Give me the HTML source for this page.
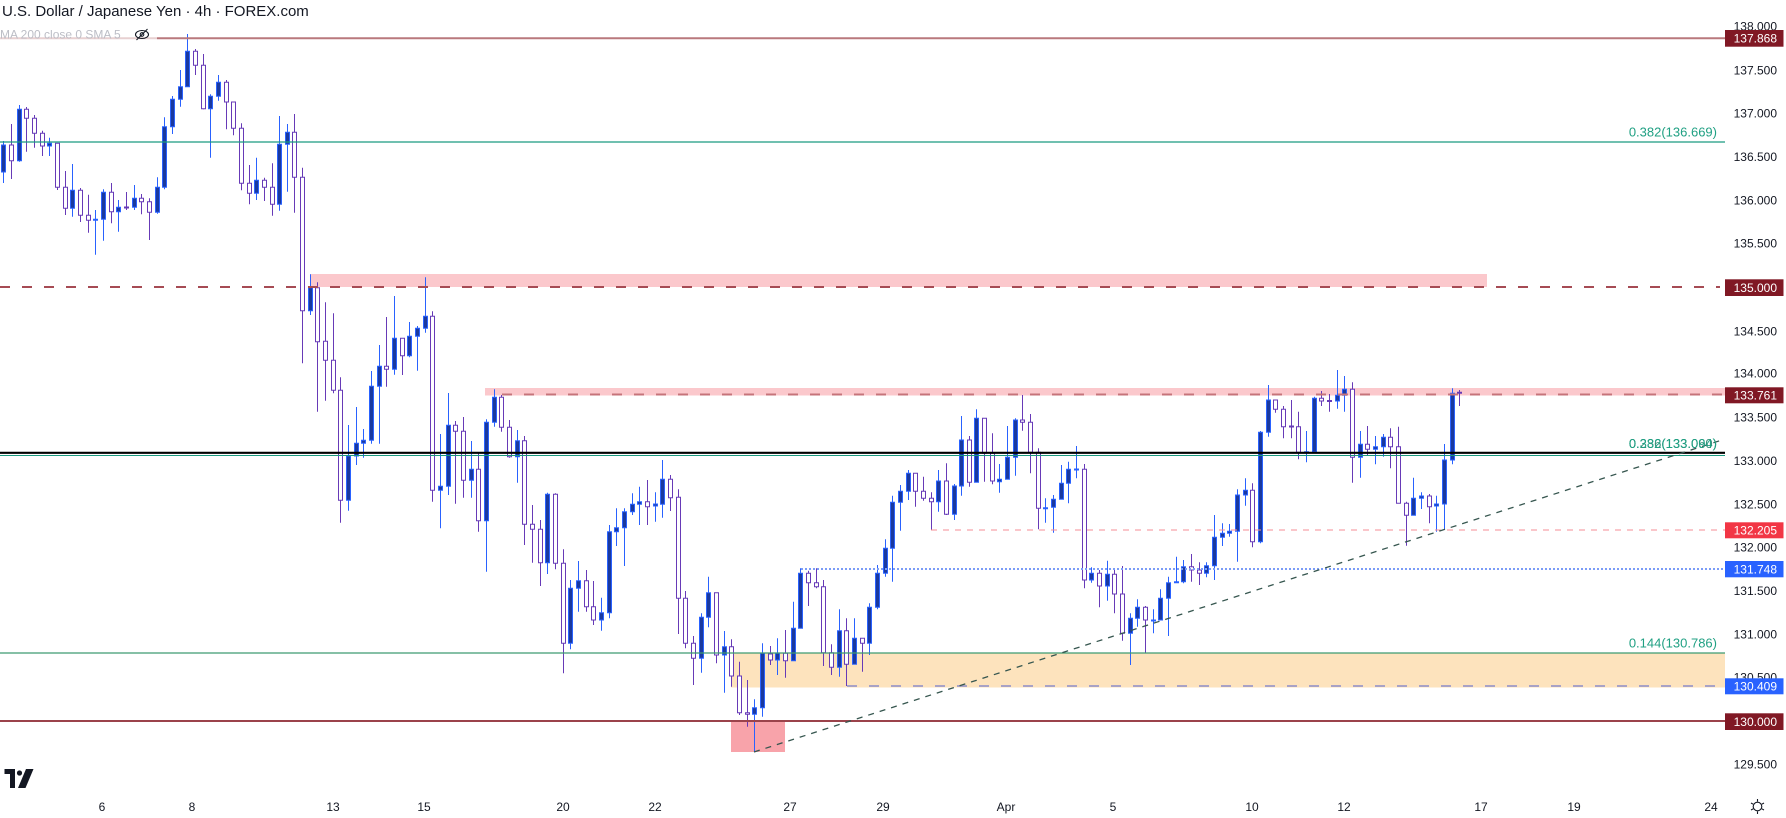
<!DOCTYPE html>
<html><head><meta charset="utf-8"><style>
html,body{margin:0;padding:0;background:#fff;width:1786px;height:818px;overflow:hidden}
svg{display:block}
text{font-family:"Liberation Sans",sans-serif}
.ax{font-size:12px;fill:#131722;text-anchor:end}
.tg{font-size:12px;fill:#fff;text-anchor:end}
.tm{font-size:12px;fill:#131722;text-anchor:middle}
.fb{font-size:13px;fill:#20a083;text-anchor:end}
</style></head><body>
<svg width="1786" height="818" viewBox="0 0 1786 818" xmlns="http://www.w3.org/2000/svg">
<rect width="1786" height="818" fill="#fff"/>
<!-- zones -->
<rect x="310" y="274" width="1177" height="13" fill="#fbc8cc"/>
<rect x="485" y="388" width="1240" height="7.5" fill="#fbc8cc"/>
<rect x="731" y="652.5" width="994" height="35" fill="#fde3bd"/>
<rect x="731" y="721" width="54" height="31" fill="#f8a3aa"/>
<!-- candles: wicks -->
<path fill="none" stroke="#2962ff" stroke-width="1" d="M3.5 141V183 M19.5 105V161.7 M49.5 137.7V156 M72.5 164V216.7 M95.5 210V254.7 M103.5 189.3V240.7 M118.5 200V231.7 M134.5 185V210 M157.5 177.3V213.7 M164.5 117.3V189.3 M172.5 96V134 M180.5 70V106.7 M187.5 34V86.7 M210.5 94.3V157.7 M218.5 75V100.7 M256.5 157.7V200 M279.5 116V210.7 M287.5 124V191.7 M310.5 274.3V315 M348.5 425V510.7 M356.5 407V465 M363.5 429V457.7 M371.5 371V443.7 M379.5 345V443.7 M394.5 296V374.7 M409.5 322V357.3 M417.5 326V370.7 M425.5 277.3V332.7 M440.5 434V528.3 M448.5 393V495 M471.5 441V497.7 M486.5 419.3V571.7 M494.5 389.3V426.7 M517.5 430V482.7 M547.5 492.7V574 M570.5 580V649.3 M578.5 561V611.7 M601.5 597.7V630.7 M609.5 525V618.3 M616.5 508.3V546 M624.5 508.3V566 M632.5 493.3V515 M639.5 486.7V525 M655.5 492.3V521.7 M662.5 460V517.7 M701.5 613.3V672.7 M708.5 576.7V627.3 M724.5 631V692.7 M754.5 699.3V752 M762.5 643.3V716.7 M777.5 638.3V675 M793.5 601.7V660.7 M800.5 568.3V628.3 M839.5 609.3V676.7 M854.5 618.3V664.3 M869.5 603.3V655 M877.5 565V609.3 M885.5 539.3V576.7 M892.5 495.7V581.7 M900.5 485V530.7 M908.5 470V500 M938.5 470V511.7 M954.5 484V520 M961.5 416V495.7 M976.5 409.3V482.3 M999.5 464V492.7 M1007.5 426V479.3 M1015.5 418.3V475.7 M1045.5 498.3V522.7 M1053.5 495V532.7 M1061.5 465V499.3 M1068.5 461.7V503.3 M1076.5 446V478.3 M1091.5 567.3V582.7 M1107.5 560.7V600.7 M1130.5 613.3V665 M1137.5 599.3V626.7 M1153.5 609.3V633.3 M1160.5 589.3V620 M1168.5 576.7V636 M1176.5 556.7V582.7 M1183.5 560V583.3 M1206.5 562.3V577.3 M1214.5 515V580 M1222.5 523.3V546 M1229.5 524V536.7 M1237.5 489.3V561.7 M1245.5 478.3V505.7 M1260.5 431V543.3 M1268.5 385V436.7 M1306.5 431V462.3 M1314.5 396.7V451.7 M1337.5 370V408.7 M1344.5 376V411.7 M1360.5 431V477.7 M1375.5 436V464.3 M1383.5 434V456.7 M1413.5 477.7V515.3 M1421.5 492.3V509 M1436.5 495.7V531.7 M1444.5 444V529.3 M1452.5 388.3V464.3"/>
<path fill="none" stroke="#673ab7" stroke-width="1" d="M11.5 124V179 M26.5 107V151.7 M34.5 115V147.7 M42.5 130.7V156 M57.5 143.3V190 M65.5 171V215 M80.5 188V222 M88.5 194.7V232.7 M111.5 183V223.3 M126.5 192V210 M141.5 194V214.3 M149.5 198.3V240 M195.5 49V75 M203.5 54V109.3 M226.5 80V129.3 M233.5 102V135.3 M241.5 123.3V190.3 M249.5 165V204.3 M264.5 177.7V201 M272.5 163.3V215.7 M294.5 114V212.7 M302.5 167.7V363.3 M317.5 282.3V411.7 M325.5 302.3V400.7 M333.5 313.3V393.3 M340.5 377.3V522.7 M386.5 317V386.7 M402.5 338.3V375 M432.5 311.3V501.7 M455.5 421V503.7 M463.5 417V497.7 M478.5 453.3V531.7 M501.5 395V431.7 M509.5 420V457.7 M524.5 436V545 M532.5 505V562.7 M540.5 520V586 M555.5 493.3V569.3 M563.5 549.3V673.3 M586.5 570V611.7 M593.5 581V625 M647.5 480V525 M670.5 475V511 M678.5 489.3V634 M685.5 591V648.3 M693.5 636V685 M716.5 592.7V663.3 M731.5 639.3V686.7 M739.5 661.7V715 M747.5 680V726.7 M770.5 646V665 M785.5 630V677.7 M808.5 570.7V606 M816.5 568.3V588.3 M823.5 580V666 M831.5 644.3V675 M846.5 618.3V686 M862.5 638.3V671.7 M915.5 473.3V506.7 M923.5 476.7V500.7 M931.5 492.3V530 M946.5 463.3V515 M969.5 436V486.7 M984.5 418.3V481.7 M992.5 433.3V484.3 M1022.5 395V430.7 M1030.5 414V473.3 M1038.5 448.3V529.3 M1084.5 464V588.3 M1099.5 570V607.3 M1114.5 570V613.3 M1122.5 566V640.7 M1145.5 606V652.7 M1191.5 554V581.7 M1199.5 562.3V585 M1252.5 483.3V547.3 M1275.5 400V412.7 M1283.5 406V438.3 M1291.5 400V438.3 M1298.5 411.7V459.3 M1321.5 391V406 M1329.5 394V411.7 M1352.5 382.3V482.7 M1367.5 426V455 M1390.5 428.3V468.3 M1398.5 426.7V503.3 M1406.5 501.7V545.7 M1429.5 494V523.3 M1459.5 390V406"/>
<!-- candles: bodies -->
<path fill="#1a399f" stroke="#2962ff" stroke-width="1" d="M1.5 145h4V172h-4z M17.5 109.3h4V160.7h-4z M47.5 143.3h4V146h-4z M70.5 190.3h4V208.3h-4z M93.5 219.3h4V220.3h-4z M101.5 192.3h4V219.3h-4z M116.5 207.3h4V211.7h-4z M132.5 198.3h4V207.3h-4z M155.5 187.3h4V212.3h-4z M162.5 126.7h4V187.3h-4z M170.5 99.3h4V126.7h-4z M178.5 86.7h4V99.3h-4z M185.5 51.3h4V86.7h-4z M208.5 96.3h4V108.7h-4z M216.5 82.3h4V96.3h-4z M254.5 180.3h4V193.3h-4z M277.5 144.3h4V204.3h-4z M285.5 132.3h4V144.3h-4z M308.5 287.7h4V310.7h-4z M346.5 456h4V500.3h-4z M354.5 443.3h4V456h-4z M361.5 440.3h4V443.3h-4z M369.5 386.3h4V440.3h-4z M377.5 366.3h4V386.3h-4z M392.5 338.3h4V369.3h-4z M407.5 336.3h4V355.7h-4z M415.5 328.3h4V336.3h-4z M423.5 316.3h4V328.3h-4z M438.5 486.3h4V490.3h-4z M446.5 425.3h4V486.3h-4z M469.5 469.3h4V480.3h-4z M484.5 422.3h4V520.7h-4z M492.5 397.3h4V422.3h-4z M515.5 440.7h4V456.7h-4z M545.5 494.3h4V562.7h-4z M568.5 588.3h4V643.3h-4z M576.5 580.7h4V588.3h-4z M599.5 612.7h4V620h-4z M607.5 531.7h4V612.7h-4z M614.5 527.7h4V531.7h-4z M622.5 511.7h4V527.7h-4z M630.5 504.3h4V511.7h-4z M637.5 501.7h4V504.3h-4z M653.5 504h4V506h-4z M660.5 479.3h4V504.3h-4z M699.5 617.3h4V658.3h-4z M706.5 592.7h4V617.3h-4z M722.5 646.7h4V655h-4z M752.5 707.7h4V714.3h-4z M760.5 653.3h4V707.7h-4z M775.5 653.3h4V660h-4z M791.5 628.3h4V660.7h-4z M798.5 573.3h4V628.3h-4z M837.5 630.7h4V667.3h-4z M852.5 638.3h4V664.3h-4z M867.5 607.3h4V643.3h-4z M875.5 573.3h4V607.3h-4z M883.5 548.3h4V573.3h-4z M890.5 502.3h4V548.3h-4z M898.5 491.3h4V502.3h-4z M906.5 473.3h4V491.3h-4z M936.5 481h4V501.7h-4z M952.5 486h4V514.3h-4z M959.5 440h4V486h-4z M974.5 418.3h4V482.3h-4z M997.5 479.3h4V481.7h-4z M1005.5 457.3h4V479.3h-4z M1013.5 420h4V457.3h-4z M1043.5 507.7h4V508.7h-4z M1051.5 499.3h4V507.3h-4z M1059.5 483.3h4V499.3h-4z M1066.5 469.3h4V483.3h-4z M1074.5 469h4V470h-4z M1089.5 573.3h4V580h-4z M1105.5 574.3h4V586h-4z M1128.5 618.3h4V633.3h-4z M1135.5 607.3h4V618.3h-4z M1151.5 620h4V621h-4z M1158.5 598.3h4V620h-4z M1166.5 582.7h4V598.3h-4z M1174.5 581.7h4V582.7h-4z M1181.5 566.7h4V581.7h-4z M1204.5 565.7h4V573.3h-4z M1212.5 537.3h4V565.7h-4z M1220.5 533.3h4V537.3h-4z M1227.5 531.3h4V533.3h-4z M1235.5 495h4V531.3h-4z M1243.5 490.3h4V495h-4z M1258.5 432.3h4V541.7h-4z M1266.5 400h4V432.3h-4z M1304.5 451.7h4V452.3h-4z M1312.5 398.3h4V451.7h-4z M1335.5 395.3h4V401h-4z M1342.5 389.3h4V395.3h-4z M1358.5 444.3h4V457.3h-4z M1373.5 446.7h4V449.3h-4z M1381.5 437.3h4V446.7h-4z M1411.5 498.3h4V515.3h-4z M1419.5 496h4V498.3h-4z M1434.5 504h4V506h-4z M1442.5 460h4V504h-4z M1450.5 393.3h4V460h-4z"/>
<path fill="#fff" stroke="#673ab7" stroke-width="1" d="M9.5 145h4V160.7h-4z M24.5 109.3h4V118.3h-4z M32.5 118.3h4V133.3h-4z M40.5 133.3h4V146h-4z M55.5 143.3h4V187.3h-4z M63.5 187.3h4V208.3h-4z M78.5 190.3h4V215.3h-4z M86.5 215.3h4V220.3h-4z M109.5 192.3h4V211.7h-4z M124.5 207h4V208h-4z M139.5 198.3h4V201.7h-4z M147.5 201.7h4V212.3h-4z M193.5 51.3h4V65.3h-4z M201.5 65.3h4V108.7h-4z M224.5 82.3h4V102h-4z M231.5 102h4V128.3h-4z M239.5 128.3h4V183.3h-4z M247.5 183.3h4V193.3h-4z M262.5 180.3h4V187.3h-4z M270.5 187.3h4V204.3h-4z M292.5 132.3h4V177.3h-4z M300.5 177.3h4V310.7h-4z M315.5 287.7h4V341.7h-4z M323.5 341.3h4V360.3h-4z M331.5 360.3h4V390.3h-4z M338.5 390.3h4V500.3h-4z M384.5 366.3h4V369.3h-4z M400.5 338.3h4V355.7h-4z M430.5 316.3h4V490.3h-4z M453.5 425.3h4V431.3h-4z M461.5 431.3h4V480.3h-4z M476.5 469.3h4V520.7h-4z M499.5 397.3h4V427.3h-4z M507.5 427.3h4V456.7h-4z M522.5 440.7h4V524.3h-4z M530.5 524.3h4V529.3h-4z M538.5 529.3h4V562.7h-4z M553.5 494.3h4V563.3h-4z M561.5 563.3h4V643.3h-4z M584.5 580.7h4V606.7h-4z M591.5 606.7h4V620h-4z M645.5 501.7h4V506.7h-4z M668.5 479.3h4V497.7h-4z M676.5 497.3h4V598.3h-4z M683.5 598.3h4V643.3h-4z M691.5 643.3h4V658.3h-4z M714.5 592.7h4V655h-4z M729.5 646.7h4V676h-4z M737.5 676h4V712.7h-4z M745.5 712.7h4V714.3h-4z M768.5 654h4V660h-4z M783.5 653.3h4V660.7h-4z M806.5 573.3h4V582.7h-4z M814.5 582.7h4V586.7h-4z M821.5 586.7h4V652.7h-4z M829.5 652.7h4V667.3h-4z M844.5 630.7h4V664.3h-4z M860.5 638.3h4V643.3h-4z M913.5 473.3h4V491.3h-4z M921.5 491.3h4V498.3h-4z M929.5 498.3h4V501.7h-4z M944.5 481h4V514.3h-4z M967.5 440h4V482.3h-4z M982.5 418.3h4V453.3h-4z M990.5 453.3h4V481h-4z M1020.5 420h4V422.3h-4z M1028.5 422.3h4V452.3h-4z M1036.5 452.3h4V508.3h-4z M1082.5 469.3h4V580h-4z M1097.5 573.3h4V586h-4z M1112.5 574.3h4V594h-4z M1120.5 594h4V633.3h-4z M1143.5 607.3h4V620h-4z M1189.5 566.7h4V570h-4z M1197.5 570h4V573.3h-4z M1250.5 490.3h4V541.7h-4z M1273.5 400h4V409.3h-4z M1281.5 409.3h4V426.7h-4z M1289.5 426h4V427h-4z M1296.5 426.7h4V452.3h-4z M1319.5 398.3h4V401h-4z M1327.5 400.5h4V401.5h-4z M1350.5 389.3h4V457.3h-4z M1365.5 444.3h4V449.3h-4z M1388.5 437.3h4V446.7h-4z M1396.5 446.7h4V503.3h-4z M1404.5 503.3h4V515.3h-4z M1427.5 496h4V506.7h-4z M1457.5 392.3h4V393.3h-4z"/>
<!-- horizontal lines -->
<line x1="0" y1="38.3" x2="1725" y2="38.3" stroke="#b9787d" stroke-width="2"/>
<line x1="0" y1="142" x2="1725" y2="142" stroke="#1a9a80" stroke-width="1.2"/>
<line x1="0" y1="287" x2="1720" y2="287" stroke="#a64b54" stroke-width="2" stroke-dasharray="10 12"/>
<line x1="502" y1="394.5" x2="1722" y2="394.5" stroke="#c6737a" stroke-width="2" stroke-dasharray="10 12"/>
<line x1="0" y1="452.8" x2="1725" y2="452.8" stroke="#000" stroke-width="2.2"/>
<line x1="0" y1="455.5" x2="1725" y2="455.5" stroke="#1a9a80" stroke-width="1"/>
<line x1="931" y1="530" x2="1725" y2="530" stroke="#f58d96" stroke-width="1" stroke-dasharray="6 6"/>
<line x1="801" y1="569" x2="1725" y2="569" stroke="#7b9cf7" stroke-width="2" stroke-dasharray="2 2"/>
<line x1="0" y1="653" x2="1725" y2="653" stroke="#3d9a72" stroke-width="1.3"/>
<line x1="847" y1="686" x2="1720" y2="686" stroke="#a8a2c6" stroke-width="2" stroke-dasharray="10 12"/>
<line x1="0" y1="721" x2="1725" y2="721" stroke="#9b434b" stroke-width="2"/>
<!-- trendline -->
<line x1="754" y1="752" x2="1722" y2="440" stroke="#36564f" stroke-width="1.3" stroke-dasharray="6 6"/>
<!-- fib labels -->
<text class="fb" x="1717" y="136.4">0.382(136.669)</text>
<text class="fb" x="1717" y="448" fill="#3a8f7a" style="fill:#3a8f7a">0.236(133.060)</text>
<text class="fb" x="1717" y="448">0.382(133.094)</text>
<text class="fb" x="1717" y="647.4">0.144(130.786)</text>
<!-- legend -->
<rect x="0" y="29" width="157" height="16" fill="#fff" opacity="0.65"/>
<text x="2" y="16" style="font-size:15px;fill:#131722">U.S. Dollar / Japanese Yen · 4h · FOREX.com</text>
<text x="0" y="38.5" style="font-size:12px;fill:#bcbec6">MA 200 close 0 SMA 5</text>
<g fill="none" stroke="#131722" stroke-width="1.1">
<ellipse cx="142" cy="34.5" rx="6.5" ry="4"/>
<circle cx="142" cy="34.5" r="1.8"/>
<line x1="136.5" y1="40" x2="147.5" y2="29"/>
</g>
<!-- price axis labels -->
<text class="ax" x="1777" y="30.3">138.000</text>
<text class="ax" x="1777" y="74.3">137.500</text>
<text class="ax" x="1777" y="117.6">137.000</text>
<text class="ax" x="1777" y="161">136.500</text>
<text class="ax" x="1777" y="204.3">136.000</text>
<text class="ax" x="1777" y="247.6">135.500</text>
<text class="ax" x="1777" y="335.3">134.500</text>
<text class="ax" x="1777" y="377.6">134.000</text>
<text class="ax" x="1777" y="421.6">133.500</text>
<text class="ax" x="1777" y="465">133.000</text>
<text class="ax" x="1777" y="508.3">132.500</text>
<text class="ax" x="1777" y="551.6">132.000</text>
<text class="ax" x="1777" y="595">131.500</text>
<text class="ax" x="1777" y="638.3">131.000</text>
<text class="ax" x="1777" y="681.3">130.500</text>
<text class="ax" x="1777" y="768.3">129.500</text>
<!-- tags -->
<rect x="1725" y="30" width="58.5" height="16.7" fill="#801824"/>
<text class="tg" x="1777" y="42.6">137.868</text>
<rect x="1725" y="279.3" width="58.5" height="16.7" fill="#801824"/>
<text class="tg" x="1777" y="291.9">135.000</text>
<rect x="1725" y="387.3" width="58.5" height="16" fill="#801824"/>
<text class="tg" x="1777" y="399.6">133.761</text>
<rect x="1725" y="522.3" width="58.5" height="16" fill="#f23645"/>
<text class="tg" x="1777" y="534.6">132.205</text>
<rect x="1725" y="561" width="58.5" height="16.3" fill="#2962ff"/>
<text class="tg" x="1777" y="573.5">131.748</text>
<rect x="1725" y="678.3" width="58.5" height="16" fill="#2962ff"/>
<text class="tg" x="1777" y="690.6">130.409</text>
<rect x="1725" y="713.3" width="58.5" height="16.7" fill="#801824"/>
<text class="tg" x="1777" y="726">130.000</text>
<!-- time axis -->
<text class="tm" x="102" y="811">6</text>
<text class="tm" x="192" y="811">8</text>
<text class="tm" x="333" y="811">13</text>
<text class="tm" x="424" y="811">15</text>
<text class="tm" x="563" y="811">20</text>
<text class="tm" x="655" y="811">22</text>
<text class="tm" x="790" y="811">27</text>
<text class="tm" x="883" y="811">29</text>
<text class="tm" x="1006" y="811">Apr</text>
<text class="tm" x="1113" y="811">5</text>
<text class="tm" x="1252" y="811">10</text>
<text class="tm" x="1344" y="811">12</text>
<text class="tm" x="1481" y="811">17</text>
<text class="tm" x="1574" y="811">19</text>
<text class="tm" x="1711" y="811">24</text>
<!-- gear -->
<g fill="none" stroke="#131722" stroke-width="1.1">
<circle cx="1757.5" cy="806.5" r="4.3"/>
<line x1="1757.5" y1="799" x2="1757.5" y2="801.5"/>
<line x1="1757.5" y1="811.5" x2="1757.5" y2="814"/>
<line x1="1751" y1="803" x2="1753.2" y2="804.2"/>
<line x1="1761.8" y1="808.8" x2="1764" y2="810"/>
<line x1="1751" y1="810" x2="1753.2" y2="808.8"/>
<line x1="1761.8" y1="804.2" x2="1764" y2="803"/>
</g>
<!-- TradingView logo -->
<g fill="#131722">
<path d="M4.5 769H15V788H10V774H4.5z"/>
<circle cx="19.5" cy="773" r="2.6"/>
<path d="M26 769H33.5L25.5 788H18z"/>
</g>
</svg>
</body></html>
